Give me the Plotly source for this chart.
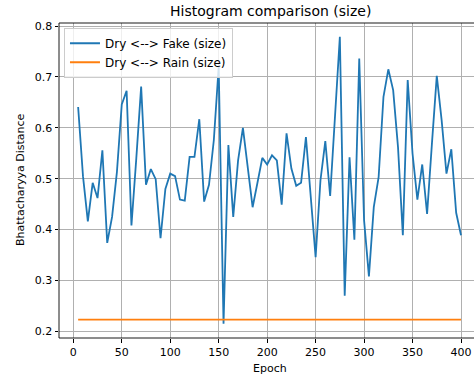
import plotly.graph_objects as go

epochs = list(range(5, 401, 5))
dry_fake = [0.641, 0.505, 0.416, 0.492, 0.462, 0.556, 0.374, 0.425, 0.513, 0.646,
            0.673, 0.408, 0.540, 0.681, 0.488, 0.519, 0.499, 0.383, 0.480, 0.510,
            0.505, 0.459, 0.457, 0.543, 0.543, 0.617, 0.455, 0.488, 0.576, 0.720,
            0.215, 0.566, 0.425, 0.536, 0.600, 0.523, 0.444, 0.492, 0.541, 0.528,
            0.546, 0.536, 0.449, 0.589, 0.520, 0.486, 0.492, 0.582, 0.464, 0.346,
            0.497, 0.574, 0.466, 0.615, 0.779, 0.270, 0.542, 0.380, 0.736, 0.418,
            0.308, 0.444, 0.503, 0.661, 0.715, 0.674, 0.562, 0.389, 0.694, 0.549,
            0.459, 0.528, 0.431, 0.569, 0.702, 0.615, 0.510, 0.558, 0.433, 0.389]
dry_rain = [0.223] * len(epochs)

x_ticks = [0, 50, 100, 150, 200, 250, 300, 350, 400]
y_ticks = [0.2, 0.3, 0.4, 0.5, 0.6, 0.7, 0.8]

FONT = "DejaVu Sans"

fig = go.Figure()
fig.add_trace(go.Scatter(x=epochs, y=dry_fake, mode="lines", name="Dry <--> Fake (size)",
                         line=dict(color="#1f77b4", width=1.8)))
fig.add_trace(go.Scatter(x=epochs, y=dry_rain, mode="lines", name="Dry <--> Rain (size)",
                         line=dict(color="#ff7f0e", width=1.8)))

axis_common = dict(showgrid=True, gridcolor="#b0b0b0", gridwidth=0.8, zeroline=False,
                   ticks="outside", ticklen=3.5, tickwidth=0.8, tickcolor="black",
                   showline=False, tickfont=dict(family=FONT, size=11, color="black"))

fig.update_layout(
    width=474, height=377,
    margin=dict(l=59, r=0, t=23, b=39),
    plot_bgcolor="white", paper_bgcolor="white",
    font=dict(family=FONT, size=11, color="black"),
    xaxis=dict(range=[-14.75, 413.4], tickvals=x_ticks, **axis_common),
    yaxis=dict(range=[0.187, 0.806], tickvals=y_ticks, tickformat=".1f", **axis_common),
    legend=dict(x=0.012, y=0.985, xanchor="left", yanchor="top",
                bgcolor="rgba(255,255,255,0.8)", bordercolor="#cccccc", borderwidth=1,
                font=dict(family=FONT, size=12, color="black"), tracegroupgap=0,
                itemwidth=30),
    showlegend=True,
)

# spines (left, bottom, top; right spine is cropped away in reference)
for (x0, y0, x1, y1) in [(0, 0, 0, 1), (0, 0, 1, 0), (0, 1, 1, 1)]:
    fig.add_shape(type="line", xref="paper", yref="paper", x0=x0, y0=y0, x1=x1, y1=y1,
                  line=dict(color="black", width=0.9), layer="above")

# title and axis labels centred on full (uncropped) axes
fig.add_annotation(text="Histogram comparison (size)", xref="paper", yref="paper",
                   x=(270 - 59) / 415, y=1, xanchor="center", yanchor="bottom", yshift=2,
                   showarrow=False, font=dict(family=FONT, size=14, color="black"))
fig.add_annotation(text="Epoch", xref="paper", yref="paper",
                   x=(270 - 59) / 415, y=0, xanchor="center", yanchor="top", yshift=-22,
                   showarrow=False, font=dict(family=FONT, size=11, color="black"))
fig.add_annotation(text="Bhattacharyya Distance", xref="paper", yref="paper",
                   x=0, y=0.5, xanchor="right", yanchor="middle", xshift=-30, textangle=-90,
                   showarrow=False, font=dict(family=FONT, size=11, color="black"))

fig.write_html("out.html", config={"displayModeBar": False},
               post_script="document.body.style.margin='0';document.body.style.overflow='hidden';")
